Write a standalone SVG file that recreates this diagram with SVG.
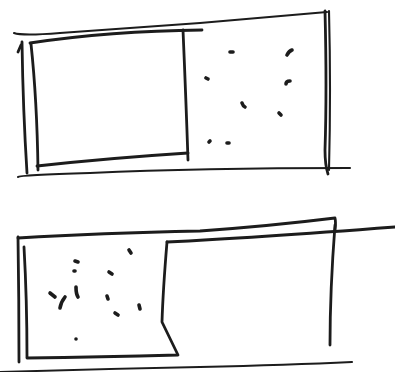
<svg xmlns="http://www.w3.org/2000/svg" width="395" height="372" viewBox="0 0 395 372">
<style>
.l{fill:none;stroke:#1c1c1c;stroke-width:2.8;stroke-linecap:round;stroke-linejoin:round}
.t{fill:none;stroke:#1c1c1c;stroke-width:2.1;stroke-linecap:round}
.d{fill:none;stroke:#1c1c1c;stroke-width:3.6;stroke-linecap:round}
</style>
<rect width="395" height="372" fill="#fff"/>
<g id="top-panel">
<path class="t" d="M14,33 Q22,36 60,33 Q130,28 200,23 Q270,17 327,12"/>
<path class="l" d="M18,52 L21,45"/>
<path class="l" d="M22,42 Q23,110 27,173"/>
<path class="t" d="M18,177 Q20,175 90,173 Q200,168 350,168"/>
<path class="l" d="M30,43 Q110,31 202,30"/>
<path class="l" d="M31,44 Q37,100 38,170"/>
<path class="l" d="M183,30 Q186,100 188,160"/>
<path class="l" d="M37,166 Q110,158 188,153"/>
<path class="l" d="M325,11 Q327,90 325,150 Q325,165 328,174"/>
<path class="t" d="M329,11 Q331,90 329,170"/>
<g id="top-dots">
<path class="d" d="M230,52 L233,52"/>
<path class="d" d="M287,55 Q289,51 292,50"/>
<path class="d" d="M206,78 L208,79"/>
<path class="d" d="M286,84 Q286,81 290,81"/>
<path class="d" d="M242,103 Q243,106 245,107"/>
<path class="d" d="M279,113 L281,115"/>
<path class="d" d="M209,142 L210,141"/>
<path class="d" d="M227,143 L229,143"/>
</g>
</g>
<g id="bottom-panel">
<path class="l" d="M18,238 Q100,233 200,231 Q270,226 335,218 Q336,222 335,230"/>
<path class="l" d="M167,242 Q250,238 395,227"/>
<path class="l" d="M167,242 Q163,290 162,322 L178,355 Q100,357 27,358"/>
<path class="l" d="M18,237 Q19,300 19,362"/>
<path class="l" d="M24,247 Q27,300 27,357"/>
<path class="l" d="M335,225 Q330,290 330,345"/>
<path class="t" d="M0,372 Q100,369 200,367 Q290,365 352,362"/>
<g id="bottom-dots">
<path class="d" d="M129,250 L131,253"/>
<path class="d" d="M75,261 L78,262"/>
<path class="d" d="M74,271 L75,271"/>
<path class="d" d="M109,272 L112,274"/>
<path class="d" d="M50,293 L55,297"/>
<path class="d" d="M65,297 Q61,302 60,308"/>
<path class="d" d="M76,287 Q76,294 78,297"/>
<path class="d" d="M107,296 L108,299"/>
<path class="d" d="M115,313 L118,315"/>
<path class="d" d="M139,305 L140,309"/>
<path class="d" d="M76,339 L76,339"/>
</g>
</g>
</svg>
